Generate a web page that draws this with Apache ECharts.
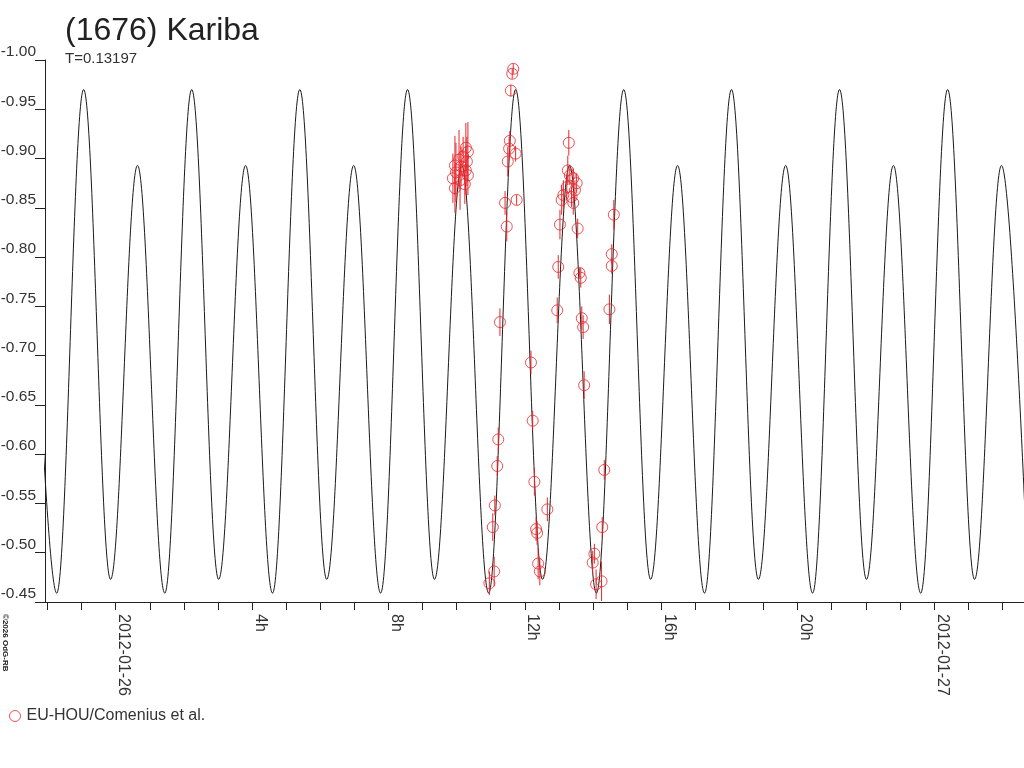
<!DOCTYPE html>
<html>
<head>
    <meta charset="UTF-8">
    <title>(1676) Kariba</title>
    <script src="https://cdn.jsdelivr.net/npm/echarts@6/dist/echarts.min.js"></script>
    <style>
        body { margin: 0; padding: 0; background: #fff; }
        #main { width: 1024px; height: 768px; }
    </style>
</head>
<body>
    <div id="main"></div>
    <script>
        // model curve: extrema (hours from 2012-01-26 00:00, magnitude)
        const curveHours = [-2.52, -1.73, -0.94, -0.15, 0.64, 1.44, 2.23, 3.02, 3.81, 4.60, 5.40, 6.19,
            6.98, 7.77, 8.56, 9.35, 10.15, 10.94, 11.73, 12.52, 13.31, 14.10, 14.90, 15.69,
            16.48, 17.27, 18.06, 18.85, 19.65, 20.44, 21.23, 22.02, 22.81, 23.61, 24.40, 25.19,
            25.98, 26.77];
        const curveMags = [-0.893, -0.459, -0.970, -0.473, -0.893, -0.459, -0.970, -0.473, -0.893, -0.459, -0.970, -0.473,
            -0.893, -0.459, -0.970, -0.473, -0.893, -0.459, -0.970, -0.473, -0.893, -0.459, -0.970, -0.473,
            -0.893, -0.459, -0.970, -0.473, -0.893, -0.459, -0.970, -0.473, -0.893, -0.459, -0.970, -0.473,
            -0.893, -0.459];

        // observations EU-HOU/Comenius
        const obsHours = [
            10.27, 10.33, 10.19, 10.07, 10.30, 9.95, 10.13, 10.27, 9.98, 10.33, 9.89, 10.10, 10.24, 9.95,
            11.66, 11.63, 11.59, 11.56, 11.54, 11.73, 11.50, 11.76, 11.42, 11.47, 11.27, 11.22, 11.19, 11.12, 11.06, 11.10, 10.96,
            12.18, 12.23, 12.28, 12.33, 12.36, 12.66, 12.39, 12.44,
            13.29, 13.26, 13.32, 13.42, 13.52, 13.23, 13.47, 13.13, 13.37, 13.08, 13.42, 13.03, 13.55, 12.98, 13.60, 13.64, 12.95, 13.67, 13.71, 13.74,
            14.61, 14.55, 14.55, 14.48, 14.33, 14.27, 14.04, 13.99, 14.25, 14.09
        ];
        const obsMags = [
            -0.911, -0.907, -0.902, -0.899, -0.897, -0.893, -0.892, -0.888, -0.886, -0.883, -0.880, -0.878, -0.874, -0.870,
            -0.991, -0.986, -0.969, -0.918, -0.910, -0.905, -0.897, -0.858, -0.855, -0.831, -0.734, -0.615, -0.588, -0.548, -0.526, -0.481, -0.469,
            -0.693, -0.634, -0.572, -0.524, -0.520, -0.544, -0.489, -0.481,
            -0.916, -0.888, -0.883, -0.880, -0.875, -0.871, -0.868, -0.863, -0.861, -0.858, -0.855, -0.833, -0.829, -0.790, -0.784, -0.779, -0.746, -0.738, -0.729, -0.670,
            -0.843, -0.803, -0.791, -0.747, -0.584, -0.526, -0.499, -0.490, -0.471, -0.468
        ];
        const obsErrs = [
            0.025, 0.030, 0.020, 0.030, 0.025, 0.030, 0.020, 0.025, 0.030, 0.020, 0.025, 0.030, 0.020, 0.025,
            0.005, 0.005, 0.006, 0.010, 0.012, 0.008, 0.015, 0.005, 0.012, 0.015, 0.014, 0.012, 0.010, 0.010, 0.014, 0.015, 0.012,
            0.012, 0.010, 0.014, 0.012, 0.012, 0.012, 0.016, 0.014,
            0.013, 0.015, 0.010, 0.010, 0.010, 0.012, 0.010, 0.015, 0.010, 0.015, 0.012, 0.015, 0.010, 0.012, 0.005, 0.010, 0.013, 0.012, 0.012, 0.014,
            0.015, 0.010, 0.008, 0.015, 0.010, 0.010, 0.010, 0.012, 0.020, 0.015
        ];

        const tickHours = [-2, -1, 0, 1, 2, 3, 4, 5, 6, 7, 8, 9, 10, 11, 12, 13, 14, 15, 16, 17, 18, 19, 20, 21, 22, 23, 24, 25, 26];
        const labelHours = [0, 4, 8, 12, 16, 20, 24];
        const dayLabels = { 0: '2012-01-26', 24: '2012-01-27' };

        const red = '#e8262c';
        const font = '"Liberation Sans", Arial, sans-serif';

        const curveData = curveHours.map((h, i) => [h, curveMags[i]]);
        const obsData = obsHours.map((h, i) => [h, obsMags[i]]);
        const errData = obsHours.map((h, i) => [h, obsMags[i], obsErrs[i]]);

        const myChart = echarts.init(document.getElementById('main'));
        const option = {
            animation: false,
            title: [
                { text: '(1676) Kariba', left: 60, top: 10,
                  textStyle: { fontFamily: font, fontSize: 32, fontWeight: 'normal', color: '#222' } },
                { text: 'T=0.13197', left: 60, top: 46,
                  textStyle: { fontFamily: font, fontSize: 15, fontWeight: 'normal', color: '#333' } }
            ],
            grid: { left: 45, right: 0, top: 60, bottom: 166, outerBoundsMode: 'none' },
            xAxis: {
                type: 'value', min: -2.073, max: 26.64,
                splitLine: { show: false },
                axisLine: { onZero: false, lineStyle: { color: '#222', width: 1 } },
                axisTick: { length: 8, customValues: tickHours, lineStyle: { color: '#222' } },
                axisLabel: {
                    customValues: labelHours, rotate: -90, margin: 12, verticalAlign: 'bottom',
                    fontFamily: font, fontSize: 16, color: '#333',
                    formatter: v => dayLabels[v] || (v + 'h')
                }
            },
            yAxis: {
                type: 'value', inverse: true, min: -1.00, max: -0.45, interval: 0.05,
                splitLine: { show: false },
                axisLine: { show: true, onZero: false, lineStyle: { color: '#222', width: 1 } },
                axisTick: { show: true, length: 10, lineStyle: { color: '#222' } },
                axisLabel: {
                    margin: 9, verticalAlign: 'bottom', fontFamily: font, fontSize: 15.5, color: '#333',
                    formatter: v => v.toFixed(2)
                }
            },
            legend: {
                left: 4, top: 703, itemWidth: 11, itemHeight: 11, itemGap: 4,
                data: [{ name: 'EU-HOU/Comenius et al.', icon: 'circle' }],
                textStyle: { fontFamily: font, fontSize: 16, color: '#333', padding: [0, 0, 0, 1] },
                itemStyle: { color: 'rgba(0,0,0,0)', borderColor: red, borderWidth: 1 }
            },
            graphic: [{
                type: 'text', x: 9, y: 614, rotation: -Math.PI / 2,
                style: { text: '©2026 OdG-RB', font: 'bold 8px ' + font, fill: '#222' }
            }],
            series: [
                {
                    type: 'line', data: curveData, smooth: 0.363, smoothMonotone: 'x',
                    showSymbol: false, clip: true, silent: true, z: 1,
                    lineStyle: { color: '#1a1a1a', width: 1 }
                },
                {
                    type: 'custom', data: errData, z: 2, silent: true,
                    renderItem: (params, api) => {
                        const p1 = api.coord([api.value(0), api.value(1) - api.value(2)]);
                        const p2 = api.coord([api.value(0), api.value(1) + api.value(2)]);
                        return {
                            type: 'line',
                            shape: { x1: p1[0], y1: p1[1], x2: p2[0], y2: p2[1] },
                            style: { stroke: red, lineWidth: 1 }
                        };
                    }
                },
                {
                    name: 'EU-HOU/Comenius et al.', type: 'scatter', data: obsData, z: 3,
                    symbol: 'circle', symbolSize: 11,
                    itemStyle: { color: 'rgba(0,0,0,0)', borderColor: red, borderWidth: 1 }
                }
            ]
        };
        myChart.setOption(option);
    </script>
</body>
</html>
